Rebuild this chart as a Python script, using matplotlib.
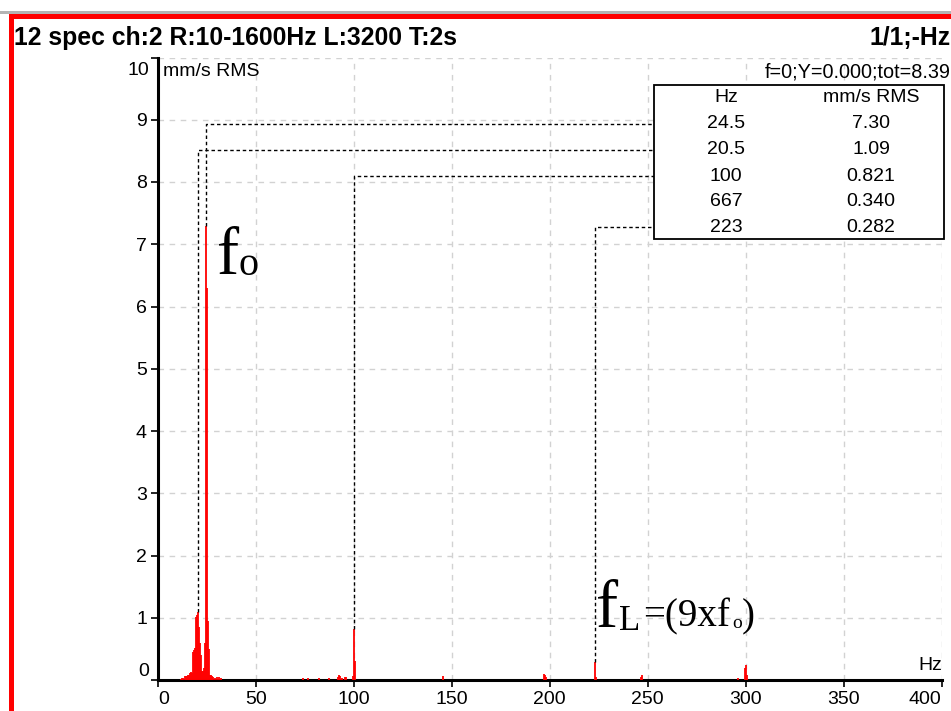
import matplotlib
matplotlib.use("Agg")
import matplotlib.pyplot as plt
from matplotlib.patches import Rectangle

plt.rcParams['font.family'] = ['Liberation Sans', 'DejaVu Sans']

# ---- spectrum data (0.5 Hz lines), mm/s RMS ----
spec_freq = [11.5, 12.0, 13.0, 14.0, 14.5, 15.0, 15.5, 16.0, 16.5, 17.0, 17.5,
             18.0, 18.5, 19.0, 19.5, 20.0, 20.5, 21.0, 21.5, 22.0, 22.5, 23.0,
             23.5, 24.0, 24.5, 25.0, 25.5, 26.0, 26.5, 27.0, 27.5, 28.0, 29.0,
             30.0, 31.0, 32.0,
             74.0, 76.5, 82.0, 87.5, 92.0, 92.5, 93.0, 94.0, 95.5, 96.0, 99.5,
             100.0, 100.5,
             145.5, 197.0, 197.5, 198.0, 223.0, 223.5, 246.5, 247.0, 296.0,
             299.5, 300.0, 300.5]
spec_amp = [0.02, 0.03, 0.03, 0.06, 0.07, 0.07, 0.08, 0.08, 0.12, 0.13, 0.12,
            0.45, 0.48, 0.52, 1.02, 1.05, 1.09, 0.85, 0.60, 0.40, 0.15, 0.15,
            0.20, 0.60, 7.30, 6.30, 0.95, 0.50, 0.08, 0.08, 0.06, 0.05, 0.04,
            0.05, 0.05, 0.03,
            0.03, 0.03, 0.03, 0.03, 0.05, 0.08, 0.06, 0.04, 0.05, 0.05, 0.06,
            0.821, 0.30,
            0.06, 0.10, 0.08, 0.05, 0.282, 0.05, 0.05, 0.08, 0.04,
            0.20, 0.24, 0.08]

# ---- peak table ----
peak_hz = [24.5, 20.5, 100, 667, 223]
peak_rms = [7.30, 1.09, 0.821, 0.340, 0.282]
peak_hz_txt = ["24.5", "20.5", "100", "667", "223"]
peak_rms_txt = ["7.30", "1.09", "0.821", "0.340", "0.282"]

x_ticks = [0, 50, 100, 150, 200, 250, 300, 350, 400]
y_ticks = [0, 1, 2, 3, 4, 5, 6, 7, 8, 9, 10]

W, H = 951, 711
fig = plt.figure(figsize=(W / 100, H / 100), dpi=100)
fig.patch.set_facecolor('white')


def fx(x):
    return x / W


def fy(y):
    return 1 - y / H


# window frame
fig.patches.append(Rectangle((0, fy(13.5)), 1, 2.5 / H, transform=fig.transFigure,
                             facecolor='#b4b4b4', edgecolor='none'))
fig.patches.append(Rectangle((fx(8.5), fy(18.5)), 1, 5 / H, transform=fig.transFigure,
                             facecolor='#ff0000', edgecolor='none'))
fig.patches.append(Rectangle((fx(8.5), 0), 5 / W, fy(13.5), transform=fig.transFigure,
                             facecolor='#ff0000', edgecolor='none'))

x0, x1, y0, y1 = 158, 941.5, 680, 57.5
ax = fig.add_axes([fx(x0), fy(y0), (x1 - x0) / W, (y0 - y1) / H])
ax.set_xlim(0, 400)
ax.set_ylim(0, 10)
for s in ['top', 'right']:
    ax.spines[s].set_visible(False)
for s in ['left', 'bottom']:
    ax.spines[s].set_linewidth(2.2)
    ax.spines[s].set_color('black')

ax.set_xticks(x_ticks)
ax.set_xticklabels([str(v) for v in x_ticks])
ax.set_yticks(y_ticks)
ax.set_yticklabels(['' if v in (0, 10) else str(v) for v in y_ticks])
ax.tick_params(axis='x', direction='out', length=5, width=1.2, pad=3,
               labelsize=14, colors='black')
ax.tick_params(axis='y', direction='out', length=5, width=1.2, pad=3,
               labelsize=14, colors='black')
xlabels = ax.get_xticklabels()
xlabels[0].set_horizontalalignment('left')
xlabels[-1].set_horizontalalignment('right')
ax.grid(True, color='#d2d2d2', linestyle=(0, (4, 4)), linewidth=1)
ax.set_axisbelow(True)

# end labels on the y axis sit inside the range
ax.text(-0.011, 0.0, "0", transform=ax.transAxes, ha='right', va='bottom',
        fontsize=14, color='black')
ax.text(-0.011, 0.992, "10", transform=ax.transAxes, ha='right', va='top',
        fontsize=14, color='black')

# spectrum lines
ax.vlines(spec_freq, 0, spec_amp, colors='#ff0000', linewidth=1.3, zorder=3)

# table box in data coordinates
tab_left = (654 - x0) / (x1 - x0) * 400
tab_right = (944 - x0) / (x1 - x0) * 400
ppu = (y0 - y1) / 10


def row_y(px):
    return (y0 - px) / ppu


tab_top, tab_bot = row_y(85), row_y(238.5)
ax.add_patch(Rectangle((tab_left, tab_bot), tab_right - tab_left, tab_top - tab_bot,
                       facecolor='white', edgecolor='black', linewidth=1.3,
                       clip_on=False, zorder=5))
col_hz = (726 - x0) / (x1 - x0) * 400
col_rms = (871 - x0) / (x1 - x0) * 400
ax.text(col_hz, row_y(98), "Hz", ha='center', va='center', fontsize=14, zorder=6)
ax.text(col_rms, row_y(98), "mm/s RMS", ha='center', va='center', fontsize=14,
        zorder=6, clip_on=False)
rows_px = [124, 150, 176, 201.5, 227]
for hz, val, ht, vt, rp in zip(peak_hz, peak_rms, peak_hz_txt, peak_rms_txt, rows_px):
    ry = row_y(rp)
    ax.text(col_hz, ry, ht, ha='center', va='center', fontsize=14, zorder=6)
    ax.text(col_rms, ry, vt, ha='center', va='center', fontsize=14, zorder=6,
            clip_on=False)
    if hz <= 400:
        ax.plot([hz, hz, tab_left], [val, ry, ry], color='black', linewidth=1.0,
                linestyle=(0, (2.5, 2)), zorder=4)

# header texts
fig.text(fx(14), fy(38), "12 spec ch:2 R:10-1600Hz L:3200 T:2s", ha='left',
         va='center', fontsize=17.8, fontweight='bold')
fig.text(fx(951), fy(38), "1/1;-Hz", ha='right', va='center', fontsize=17.8,
         fontweight='bold')
fig.text(fx(163), fy(72), "mm/s RMS", ha='left', va='center', fontsize=14)
fig.text(fx(951), fy(72), "f=0;Y=0.000;tot=8.39", ha='right', va='center',
         fontsize=14.3)
fig.text(fx(942), fy(666), "Hz", ha='right', va='center', fontsize=14)

# frequency annotations
serif = ['Liberation Serif', 'DejaVu Serif']
fig.text(fx(217), fy(274), "f", family=serif, fontsize=48, ha='left', va='baseline')
fig.text(fx(238), fy(275), "o", family=serif, fontsize=29, ha='left', va='baseline')

fig.text(fx(596), fy(627), "f", family=serif, fontsize=48, ha='left', va='baseline')
fig.text(fx(619), fy(630), "L", family=serif, fontsize=25, ha='left', va='baseline')
fig.text(fx(643), fy(626), "=(9xf", family=serif, fontsize=28, ha='left', va='baseline')
fig.text(fx(732), fy(628), "o", family=serif, fontsize=14, ha='left', va='baseline')
fig.text(fx(742), fy(626), ")", family=serif, fontsize=28, ha='left', va='baseline')

fig.savefig("out.png", dpi=100, facecolor='white')
